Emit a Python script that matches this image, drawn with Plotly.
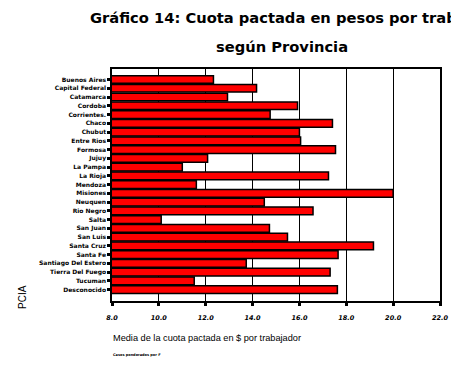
import plotly.graph_objects as go

provincias = ["Buenos Aires", "Capital Federal", "Catamarca", "Cordoba", "Corrientes.",
              "Chaco", "Chubut", "Entre Rios", "Formosa", "Jujuy", "La Pampa", "La Rioja",
              "Mendoza", "Misiones", "Neuquen", "Rio Negro", "Salta", "San Juan", "San Luis",
              "Santa Cruz", "Santa Fe", "Santiago Del Estero", "Tierra Del Fuego", "Tucuman",
              "Desconocido"]
cuota = [12.33, 14.17, 12.93, 15.92, 14.75, 17.41, 16.0, 16.05, 17.54, 12.08, 11.0, 17.24,
         11.6, 20.0, 14.5, 16.58, 10.1, 14.72, 15.49, 19.16, 17.65, 13.73, 17.31, 11.51, 17.62]
x_ticks = [8, 10, 12, 14, 16, 18, 20, 22]

# the page body adds an 8px margin, so the figure is drawn 8px smaller and shifted
OFF = 8
W, H = 459 - OFF, 368 - OFF
L, R, T, B = 112 - OFF, 440 - OFF, 69 - OFF, 301 - OFF
pw, ph = R - L, B - T

def px(x):
    return (x - OFF - L) / pw

def py(y):
    return (B - (y - OFF)) / ph

fig = go.Figure(go.Bar(
    y=provincias, x=cuota, orientation="h",
    marker=dict(color="#ff0000", line=dict(color="black", width=1.5)),
))

fig.update_layout(
    width=W, height=H,
    margin=dict(l=L, r=W - R, t=T, b=H - B, autoexpand=False),
    paper_bgcolor="white", plot_bgcolor="white",
    showlegend=False,
    bargap=0.12,
    font=dict(family="Liberation Sans, Arial, sans-serif", color="black"),
)
fig.update_xaxes(
    range=[8, 22], tickvals=x_ticks, tickformat=".1f",
    showgrid=True, gridcolor="black", gridwidth=1.3,
    showline=True, linecolor="black", linewidth=1.5, mirror=True,
    ticks="outside", ticklen=3, tickwidth=3, tickcolor="black",
    ticklabelstandoff=6,
    tickfont=dict(size=6.5, family="DejaVu Sans", color="black", weight="bold", style="italic"),
    zeroline=False, fixedrange=True, automargin=False,
)
fig.update_yaxes(
    range=[25.3, -1.2], type="category",
    showgrid=False,
    showline=True, linecolor="black", linewidth=1.5, mirror=True,
    ticks="outside", ticklen=3, tickwidth=3, tickcolor="black",
    tickfont=dict(size=6, family="DejaVu Sans", color="black", weight="bold"),
    fixedrange=True, automargin=False,
)

anns = [
    dict(text="<b>Gráfico 14: Cuota pactada en pesos por trabajador</b>", x=px(88), y=py(17),
         xanchor="left", yanchor="middle", font=dict(size=14.7, family="DejaVu Sans")),
    dict(text="<b>según Provincia</b>", x=px(282), y=py(47),
         xanchor="center", yanchor="middle", font=dict(size=14.7, family="DejaVu Sans")),
    dict(text="Media de la cuota pactada en $ por trabajador", x=px(111), y=py(338),
         xanchor="left", yanchor="middle", font=dict(size=9.2, family="Liberation Sans")),
    dict(text="<b>Casos ponderados por F</b>", x=px(111), y=py(355),
         xanchor="left", yanchor="middle", font=dict(size=3.5, family="DejaVu Sans")),
    dict(text="PCIA", x=px(22), y=py(297), textangle=-90,
         xanchor="center", yanchor="middle", font=dict(size=10, family="Liberation Sans")),
]
for a in anns:
    a.update(xref="paper", yref="paper", showarrow=False)
fig.update_layout(annotations=anns)

fig.write_html("out.html")
